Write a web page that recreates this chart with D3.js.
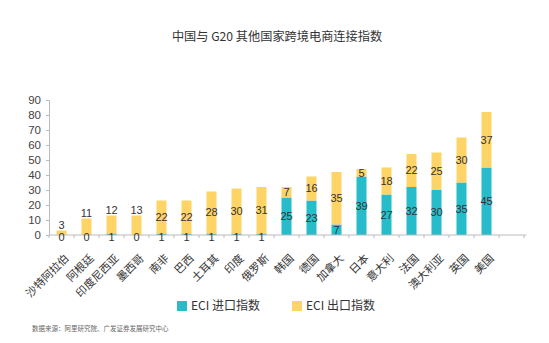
<!DOCTYPE html>
<html>
<head>
<meta charset="utf-8">
<script src="https://cdn.jsdelivr.net/npm/d3@7"></script>
<style>
  body { margin: 0; background: #fff; }
  text { font-family: "Liberation Sans", Arial, sans-serif; }
  .cjk { font-family: "Noto Sans CJK SC", "Noto Sans", sans-serif; }
</style>
</head>
<body>
<div id="chart"></div>
<script>
const categories = ["沙特阿拉伯", "阿根廷", "印度尼西亚", "墨西哥", "南非", "巴西", "土耳其", "印度", "俄罗斯",
  "韩国", "德国", "加拿大", "日本", "意大利", "法国", "澳大利亚", "英国", "美国"]
const importValues = [0, 0, 1, 0, 1, 1, 1, 1, 1, 25, 23, 7, 39, 27, 32, 30, 35, 45]
const exportValues = [3, 11, 12, 13, 22, 22, 28, 30, 31, 7, 16, 35, 5, 18, 22, 25, 30, 37]
const yTicks = [0, 10, 20, 30, 40, 50, 60, 70, 80, 90]
const seriesNames = ["ECI 进口指数", "ECI 出口指数"]

const W = 549, H = 343
const MARGIN = { TOP: 100, LEFT: 49, BOTTOM: 108 }
const BAND = 25
const COLORS = ["#26BCCA", "#FFD466"]

const svg = d3.select("#chart").append("svg")
  .attr("width", W).attr("height", H)

svg.append("text")
  .attr("class", "cjk")
  .attr("x", 277).attr("y", 41)
  .attr("text-anchor", "middle")
  .attr("font-size", 12.2)
  .attr("fill", "#333")
  .text("中国与 G20 其他国家跨境电商连接指数")

const x = d3.scaleBand()
  .domain(categories)
  .range([MARGIN.LEFT, MARGIN.LEFT + categories.length * BAND])
  .paddingInner(0.6).paddingOuter(0.3)

const y = d3.scaleLinear().domain([0, 90]).range([H - MARGIN.BOTTOM, MARGIN.TOP])
const axisEnd = MARGIN.LEFT + (categories.length + 1.1) * BAND

// y axis
const yAxis = svg.append("g")
  .attr("transform", `translate(${MARGIN.LEFT},0)`)
  .call(d3.axisLeft(y).tickValues(yTicks).tickSize(3).tickPadding(5))
yAxis.selectAll("text").attr("font-size", 11.5).attr("fill", "#444")
yAxis.selectAll("line, path").attr("stroke", "#bbb")

// bars
const rows = categories.map((c, i) => ({ c, imp: importValues[i], exp: exportValues[i] }))

svg.append("g").selectAll("rect.imp").data(rows).join("rect")
  .attr("x", d => x(d.c)).attr("width", x.bandwidth())
  .attr("y", d => y(d.imp)).attr("height", d => y(0) - y(d.imp))
  .attr("fill", COLORS[0])

svg.append("g").selectAll("rect.exp").data(rows).join("rect")
  .attr("x", d => x(d.c)).attr("width", x.bandwidth())
  .attr("y", d => y(d.imp + d.exp)).attr("height", d => y(d.imp) - y(d.imp + d.exp))
  .attr("fill", COLORS[1])

// x axis
const xAxisY = y(0)
svg.append("line")
  .attr("x1", MARGIN.LEFT).attr("x2", axisEnd)
  .attr("y1", xAxisY).attr("y2", xAxisY)
  .attr("stroke", "#bbb")
const boundaries = d3.range(categories.length + 2).map(i => MARGIN.LEFT + i * BAND)
svg.append("g").selectAll("line").data(boundaries).join("line")
  .attr("x1", d => d).attr("x2", d => d)
  .attr("y1", xAxisY).attr("y2", xAxisY + 3)
  .attr("stroke", "#bbb")

// value labels
const labels = svg.append("g").attr("font-size", 11).attr("fill", "#333").attr("text-anchor", "middle")
labels.selectAll("text.imp").data(rows).join("text")
  .attr("x", d => x(d.c) + x.bandwidth() / 2)
  .attr("y", d => d.imp < 5 ? y(0) + 2 : (y(0) + y(d.imp)) / 2)
  .attr("dy", "0.35em")
  .text(d => d.imp)
labels.selectAll("text.exp").data(rows).join("text")
  .attr("x", d => x(d.c) + x.bandwidth() / 2)
  .attr("y", d => (d.exp < 15 && d.imp < 5) ? y(d.imp + d.exp) - 5 : (y(d.imp) + y(d.imp + d.exp)) / 2)
  .attr("dy", "0.35em")
  .text(d => d.exp)

// category labels
svg.append("g").selectAll("text").data(categories).join("text")
  .attr("class", "cjk")
  .attr("font-size", 11)
  .attr("fill", "#333")
  .attr("text-anchor", "end")
  .attr("transform", d => `translate(${x(d) + x.bandwidth() / 2 + 8},${xAxisY + 24}) rotate(-45)`)
  .text(d => d)

// legend
const legendX = [177, 292]
const legend = svg.append("g").selectAll("g").data(seriesNames).join("g")
  .attr("transform", (d, i) => `translate(${legendX[i]},301)`)
legend.append("rect").attr("width", 10).attr("height", 10).attr("fill", (d, i) => COLORS[i])
legend.append("text")
  .attr("class", "cjk")
  .attr("x", 14).attr("y", 5).attr("dy", "0.35em")
  .attr("font-size", 12).attr("fill", "#333")
  .text(d => d)

svg.append("text")
  .attr("class", "cjk")
  .attr("x", 32).attr("y", 331)
  .attr("font-size", 6.5).attr("fill", "#666")
  .text("数据来源：阿里研究院、广发证券发展研究中心")
</script>
</body>
</html>
